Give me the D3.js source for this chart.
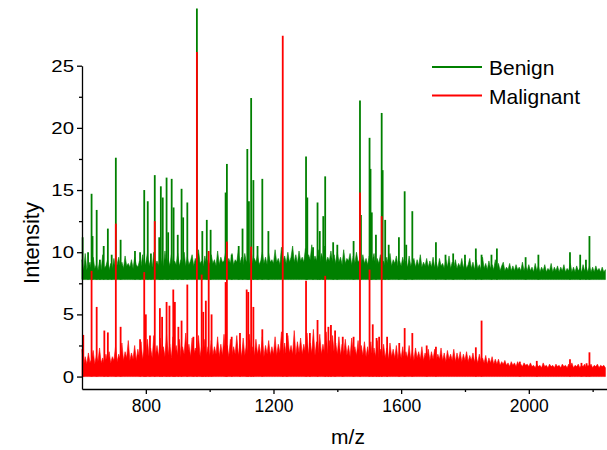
<!DOCTYPE html>
<html>
<head>
<meta charset="utf-8">
<script src="https://cdn.jsdelivr.net/npm/d3@7"></script>
<style>
  body { margin: 0; background: #fff; }
  svg { display: block; font-family: "Liberation Sans", Arial, sans-serif; }
</style>
</head>
<body>
<div id="chart"></div>
<script>
// m/z sampling of the noise envelope (one value every 5 m/z, 600..2240)
const envStart = 600, envStep = 5;

// envelope tops of the dense noise, as plotted (Benign already offset)
const benignEnv = [
  9.4, 8.5, 9.9, 8.6, 8.8, 9.2, 8.5, 9.6, 8.7, 9.0, 8.5, 9.3, 8.6, 9.8, 8.7, 8.9, 9.4, 8.6, 9.1, 8.7,
  9.5, 8.7, 9.0, 9.6, 8.8, 9.2, 8.7, 9.7, 8.9, 9.1, 8.8, 9.4, 8.7, 9.6, 9.0, 8.8, 9.3, 8.9, 9.8, 8.8,
  9.2, 9.9, 8.9, 9.4, 8.8, 10.0, 9.0, 9.3, 8.9, 9.7, 9.1, 8.9, 10.1, 9.0, 9.5, 8.9, 9.8, 9.0, 9.3, 9.0,
  9.9, 8.9, 9.4, 9.1, 10.0, 8.9, 9.6, 9.0, 9.3, 9.8, 8.9, 9.5, 9.0, 10.2, 9.1, 9.3, 8.9, 9.7, 9.0, 9.4,
  9.0, 9.8, 9.1, 9.4, 8.9, 10.1, 9.0, 9.6, 9.2, 9.3, 10.0, 9.0, 9.5, 9.1, 9.9, 9.0, 9.4, 9.2, 10.2, 9.1,
  9.6, 9.0, 9.9, 9.2, 9.4, 9.0, 10.1, 9.1, 9.5, 9.2, 9.8, 9.0, 9.3, 10.0, 9.1, 9.6, 9.0, 9.9, 9.2, 9.4,
  9.1, 10.2, 9.2, 9.5, 9.0, 10.4, 9.3, 9.7, 9.1, 10.0, 9.2, 9.6, 10.5, 9.2, 9.8, 9.1, 10.1, 9.3, 9.6, 9.2,
  10.3, 9.2, 9.8, 9.4, 10.6, 9.2, 9.7, 9.3, 10.2, 9.1, 9.9, 9.4, 10.5, 9.2, 9.6, 9.3, 10.1, 9.2, 9.8, 9.1,
  10.0, 9.2, 9.6, 9.0, 10.2, 9.1, 9.5, 9.3, 9.9, 9.0, 9.7, 9.1, 10.0, 9.2, 9.4, 9.0, 9.8, 9.1, 9.5, 9.0,
  9.7, 9.0, 9.4, 9.9, 8.9, 9.5, 9.1, 9.8, 9.0, 9.3, 8.9, 9.6, 9.0, 9.9, 8.9, 9.4, 9.1, 9.7, 8.9, 9.3,
  8.9, 9.6, 9.0, 9.3, 8.8, 9.7, 8.9, 9.2, 9.5, 8.8, 9.4, 8.9, 9.8, 8.8, 9.2, 8.9, 9.5, 8.8, 9.3, 8.8,
  9.6, 8.8, 9.2, 8.7, 9.5, 8.9, 9.1, 8.7, 9.4, 8.8, 9.7, 8.7, 9.2, 8.8, 9.4, 8.7, 9.1, 8.8, 9.5, 8.7,
  9.3, 8.7, 9.0, 9.5, 8.7, 9.2, 8.6, 9.4, 8.7, 9.0, 8.6, 9.6, 8.7, 9.1, 8.6, 9.3, 8.7, 9.0, 8.6, 9.4,
  8.6, 9.1, 8.5, 8.9, 9.2, 8.5, 8.8, 8.6, 9.1, 8.5, 8.9, 8.5, 9.0, 8.6, 8.8, 8.5, 9.2, 8.5, 8.9, 8.5,
  9.0, 8.5, 8.8, 8.4, 9.1, 8.5, 8.9, 8.4, 8.8, 8.5, 9.0, 8.4, 8.7, 8.5, 9.1, 8.4, 8.8, 8.5, 8.9, 8.4,
  8.8, 8.5, 9.0, 8.4, 8.7, 8.5, 9.1, 8.4, 8.8, 8.4, 8.9, 8.5, 8.7, 8.4, 9.0, 8.5, 8.8, 8.4, 8.9, 8.4,
  8.8, 8.4, 8.9, 8.5, 8.7, 8.4, 8.8, 8.4, 8.6
];
const malignantEnv = [
  2.2, 0.9, 1.6, 1.0, 1.9, 1.1, 1.4, 2.1, 1.0, 1.7, 1.2, 2.3, 1.1, 1.5, 1.0, 1.8, 1.2, 2.0, 1.1, 1.6,
  1.3, 2.4, 1.2, 1.8, 1.4, 2.7, 1.3, 2.0, 1.5, 2.9, 1.3, 1.9, 1.4, 2.5, 1.3, 2.2, 1.5, 2.8, 1.4, 2.1,
  1.5, 3.0, 1.6, 2.3, 1.5, 3.3, 1.7, 2.5, 1.6, 3.1, 1.8, 2.4, 1.6, 3.4, 1.7, 2.6, 1.5, 3.2, 1.8, 2.5,
  1.7, 3.0, 1.6, 2.4, 1.8, 3.5, 1.7, 2.6, 1.6, 3.1, 1.8, 2.3, 1.7, 3.3, 1.6, 2.5, 1.8, 3.0, 1.7, 2.4,
  1.6, 2.9, 1.7, 2.4, 1.8, 3.2, 1.6, 2.6, 1.7, 3.4, 1.8, 2.5, 1.6, 3.0, 1.7, 2.4, 1.8, 3.3, 1.7, 2.6,
  1.6, 3.1, 1.7, 2.5, 1.8, 3.4, 1.6, 2.4, 1.7, 3.0, 1.8, 2.6, 1.7, 3.2, 1.6, 2.5, 1.8, 2.9, 1.7, 2.4,
  1.8, 3.2, 1.7, 2.6, 1.9, 3.6, 1.8, 2.7, 1.7, 3.3, 1.9, 2.5, 1.8, 3.7, 1.7, 2.8, 1.9, 3.1, 1.8, 2.6,
  1.9, 3.5, 1.8, 2.7, 1.9, 3.8, 1.7, 2.8, 1.9, 3.4, 1.8, 2.6, 1.9, 3.6, 1.8, 2.9, 1.7, 3.3, 1.9, 2.7,
  1.8, 3.2, 1.7, 2.6, 1.8, 3.0, 1.7, 2.5, 1.6, 3.1, 1.8, 2.4, 1.7, 2.9, 1.6, 2.5, 1.7, 2.8, 1.6, 2.4,
  1.6, 2.8, 1.5, 2.3, 1.6, 2.9, 1.5, 2.2, 1.6, 2.6, 1.5, 2.3, 1.4, 2.7, 1.6, 2.2, 1.5, 2.5, 1.4, 2.1,
  1.5, 2.4, 1.4, 2.0, 1.5, 2.5, 1.4, 2.1, 1.3, 2.3, 1.5, 2.0, 1.4, 2.4, 1.3, 1.9, 1.4, 2.2, 1.3, 2.0,
  1.4, 2.2, 1.3, 1.8, 1.4, 2.3, 1.3, 1.9, 1.2, 2.1, 1.4, 1.8, 1.3, 2.2, 1.2, 1.9, 1.3, 2.0, 1.2, 1.8,
  1.3, 2.0, 1.2, 1.7, 1.3, 1.9, 1.2, 1.6, 1.1, 1.8, 1.2, 1.5, 1.1, 1.7, 1.0, 1.5, 1.1, 1.6, 1.0, 1.4,
  1.0, 1.4, 0.9, 1.2, 1.0, 1.3, 0.9, 1.1, 0.8, 1.2, 0.9, 1.1, 0.8, 1.2, 0.9, 1.0, 0.8, 1.1, 0.9, 1.0,
  0.8, 1.1, 0.8, 0.9, 0.7, 1.0, 0.8, 0.9, 0.7, 1.1, 0.8, 0.9, 0.7, 1.0, 0.8, 0.9, 0.7, 1.0, 0.8, 0.9,
  0.7, 1.0, 0.8, 0.9, 0.7, 1.0, 0.8, 1.1, 0.7, 0.9, 0.8, 1.0, 0.7, 0.9, 0.8, 1.0, 0.7, 0.9, 0.8, 1.0,
  0.7, 0.9, 0.8, 1.0, 0.7, 0.9, 0.8, 0.9, 0.7
];

// individual peaks: [m/z, intensity as plotted]
const benignPeaks = [
  [602,11.2],[619,10.0],[630,14.7],[633,11.3],[646,13.4],[656,9.4],[668,10.5],[681,11.9],
  [693,9.8],[706,17.6],[721,11.0],[766,10.1],[782,10.0],[795,15.0],[806,14.1],[816,9.9],
  [828,16.2],[842,11.2],[847,15.3],[853,14.4],[865,16.0],[870,11.6],[881,15.9],[887,13.6],
  [900,11.4],[912,15.1],[917,12.8],[930,14.0],[960,29.6],[977,11.7],[991,12.6],[1003,11.8],
  [1050,14.8],[1054,17.1],[1069,9.8],[1091,10.5],[1103,11.9],[1118,18.3],[1123,14.1],
  [1130,22.4],[1137,15.8],[1150,10.5],[1165,15.9],[1184,11.7],[1302,17.7],[1306,14.4],
  [1324,10.4],[1338,14.0],[1345,11.7],[1356,12.9],[1362,16.1],[1387,10.8],[1400,10.6],
  [1451,10.9],[1471,22.2],[1474,13.0],[1501,19.2],[1504,16.7],[1508,13.2],[1521,11.4],
  [1539,21.2],[1542,16.6],[1550,12.6],[1561,10.6],[1593,11.2],[1611,14.9],[1616,10.6],
  [1635,13.3],[1709,10.8],[1739,9.8],[1763,9.9],[1800,9.8],[1834,10.3],[1852,9.8],
  [1883,9.8],[1900,10.3],[1990,9.6],[2030,9.8],[2129,10.0],[2161,9.8],[2179,9.4],[2190,11.3]
];
const malignantPeaks = [
  [604,3.35],[630,8.5],[646,5.6],[670,3.7],[681,3.55],[706,12.3],[721,4.0],[782,3.0],
  [795,8.4],[800,5.0],[813,3.3],[828,12.5],[844,5.5],[851,4.8],[865,6.0],[874,5.7],
  [886,7.0],[891,6.0],[902,4.0],[912,4.5],[930,7.4],[949,3.2],[960,26.1],[975,8.2],
  [980,5.2],[988,6.1],[997,10.1],[1006,5.0],[1050,7.6],[1054,10.85],[1069,3.2],[1095,3.5],
  [1116,7.0],[1121,6.8],[1130,10.45],[1137,5.6],[1165,3.8],[1229,27.4],[1242,3.5],
  [1302,7.7],[1314,3.5],[1338,4.55],[1362,8.1],[1372,4.0],[1380,4.15],[1393,3.7],
  [1417,3.2],[1451,3.2],[1471,14.8],[1501,8.6],[1511,4.2],[1523,3.1],[1531,3.2],
  [1539,12.9],[1556,3.2],[1594,2.7],[1611,3.9],[1635,3.5],[1680,2.5],[1709,2.4],
  [1834,2.35],[1852,4.5],[1972,1.2],[2025,1.26],[2129,1.4],[2165,1.1],[2181,1.07],[2190,1.95]
];

const benignBase = 7.8, malignantBase = 0;
const yTicks = [0, 5, 10, 15, 20, 25];
const yMinor = [2.5, 7.5, 12.5, 17.5, 22.5];
const xTicks = [800, 1200, 1600, 2000];
const xMinor = [1000, 1400, 1800, 2200];
const series = [
  { name: "Benign", color: "#008000", env: benignEnv, peaks: benignPeaks, base: benignBase },
  { name: "Malignant", color: "#ff0000", env: malignantEnv, peaks: malignantPeaks, base: malignantBase }
];

const W = 607, H = 450;
const x = d3.scaleLinear().domain([600, 2245]).range([82, 607]);
const y = d3.scaleLinear().domain([-1, 25]).range([389, 65.7]);

const svg = d3.select("#chart").append("svg")
  .attr("width", W).attr("height", H);

//spectra: dense envelope + sticks
series.forEach(s => {
  const pts = s.env.map((v, i) => [envStart + i * envStep, v]);
  svg.append("path")
    .datum(pts)
    .attr("fill", s.color)
    .attr("stroke", s.color)
    .attr("stroke-width", 0.6)
    .attr("d", d3.area().x(d => x(d[0])).y0(y(s.base)).y1(d => y(d[1])));
  svg.append("g").selectAll("line")
    .data(s.peaks)
    .enter().append("line")
    .attr("x1", d => x(d[0])).attr("x2", d => x(d[0]))
    .attr("y1", y(s.base)).attr("y2", d => y(d[1]))
    .attr("stroke", s.color)
    .attr("stroke-width", 1.8);
});

//axes
const yAxis = svg.append("g")
  .attr("transform", `translate(${x(600)},0)`)
  .call(d3.axisLeft(y).tickValues(yTicks).tickSize(5).tickSizeOuter(0).tickPadding(3).tickFormat(d3.format("d")));
svg.append("g")
  .attr("transform", `translate(${x(600)},0)`)
  .call(d3.axisLeft(y).tickValues(yMinor).tickSize(3).tickSizeOuter(0).tickFormat(""))
  .select(".domain").remove();
const xAxis = svg.append("g")
  .attr("transform", `translate(0,${y(-1)})`)
  .call(d3.axisBottom(x).tickValues(xTicks).tickSize(5).tickSizeOuter(0).tickPadding(6).tickFormat(d3.format("d")));
svg.append("g")
  .attr("transform", `translate(0,${y(-1)})`)
  .call(d3.axisBottom(x).tickValues(xMinor).tickSize(3).tickSizeOuter(0).tickFormat(""))
  .select(".domain").remove();

svg.selectAll(".tick line, .domain").attr("stroke", "#000").attr("stroke-width", 1.3);
svg.selectAll(".tick text")
  .attr("font-family", "'Liberation Sans', Arial, sans-serif")
  .attr("fill", "#000");
xAxis.selectAll(".tick text").attr("font-size", 17.5);
// y labels read a little wider than the x labels in the reference
yAxis.selectAll(".tick text")
  .attr("font-size", 17)
  .attr("x", -8 / 1.2)
  .attr("transform", "scale(1.2,1)");

svg.append("text")
  .attr("x", 348).attr("y", 444)
  .attr("text-anchor", "middle")
  .attr("font-size", 21)
  .text("m/z");
svg.append("text")
  .attr("transform", `translate(39,243) rotate(-90)`)
  .attr("text-anchor", "middle")
  .attr("font-size", 22)
  .text("Intensity");

//legend
const legend = svg.append("g").attr("transform", "translate(432,67)");
series.forEach((s, i) => {
  const g = legend.append("g").attr("transform", `translate(0,${i * 28.5})`);
  g.append("line").attr("x1", 0).attr("x2", 50).attr("stroke", s.color).attr("stroke-width", 2);
  g.append("text").attr("x", 57).attr("y", 8).attr("font-size", 21).text(s.name);
});
</script>
</body>
</html>
